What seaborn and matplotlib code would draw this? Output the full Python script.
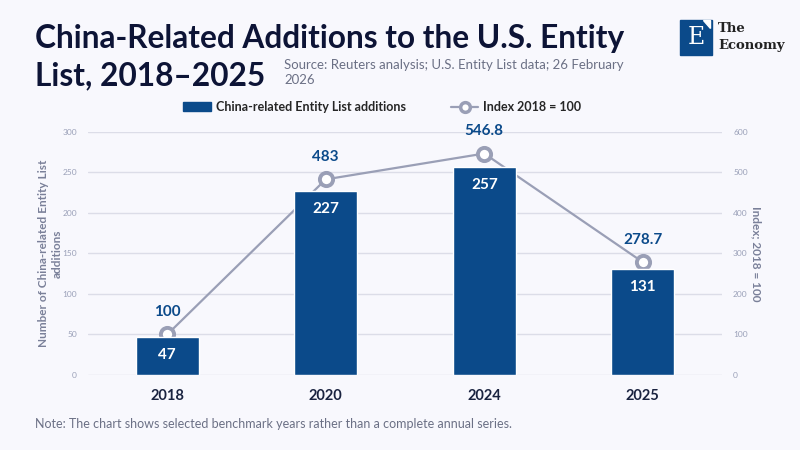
import numpy as np
import pandas as pd
import seaborn as sns
import matplotlib.pyplot as plt
from matplotlib.patches import Rectangle, Polygon
from matplotlib.lines import Line2D
from matplotlib.patches import Patch

# data
years = ["2018", "2020", "2024", "2025"]
additions = [47, 227, 257, 131]
index_vals = [100, 483, 546.8, 278.7]
index_labels = ["100", "483", "546.8", "278.7"]

BG = "#F8F8FD"
BLUE = "#0B4A8A"
GREY_LINE = "#9A9FB6"
DARK = "#0D1436"

sns.set_theme(style="white")
plt.rcParams['font.family'] = ['Lato', 'DejaVu Sans']

df = pd.DataFrame({"year": years, "additions": additions, "index": index_vals})
df["pos"] = np.arange(len(df))

fig = plt.figure(figsize=(8, 4.5), dpi=100, facecolor=BG)
ax = fig.add_axes([0.11, 0.1667, 0.7925, 0.54])
ax2 = ax.twinx()

# bars sit in front of the line
ax.set_zorder(ax2.get_zorder() + 1)
ax.patch.set_visible(False)
ax2.set_facecolor(BG)

sns.barplot(data=df, x="pos", y="additions", ax=ax, color=BLUE, width=0.4,
            saturation=1, native_scale=True)
sns.lineplot(data=df, x="pos", y="index", ax=ax2, color=GREY_LINE, lw=1.6,
             marker="o", markersize=9.5, markerfacecolor="white",
             markeredgecolor=GREY_LINE, markeredgewidth=2.8)

ax.set_xlim(-0.5, 3.5)
ax.set_ylim(0, 300)
ax2.set_ylim(0, 600)
ax.set_yticks(range(0, 301, 50))
ax2.set_yticks(range(0, 601, 100))
ax.set_xticks(df["pos"])
ax.set_xticklabels(years, fontsize=10.5, fontweight="bold", color="#1A2340")

ax2.grid(axis="y", color="#DCDDE8", lw=1)
ax.grid(False)
for a in (ax, ax2):
    for s in a.spines.values():
        s.set_visible(False)
    a.tick_params(axis="y", length=0, labelsize=6, labelcolor="#9AA0B8", pad=8)
    a.tick_params(axis="x", length=0, pad=10)

ax.set_xlabel("")
ax.set_ylabel("Number of China-related Entity List\nadditions", fontsize=8.5,
              color="#7A8099", labelpad=0, fontweight="bold")
ax2.set_xlabel("")
ax2.set_ylabel("Index; 2018 = 100", fontsize=8.5, color="#7A8099", rotation=270,
               labelpad=10, fontweight="bold")

for p, v in zip(df["pos"], additions):
    ax.annotate(str(v), (p, v), xytext=(0, -13), textcoords="offset points",
                ha="center", va="center", color="white", fontsize=11,
                fontweight="bold")
for p, v, lab in zip(df["pos"], index_vals, index_labels):
    ax2.annotate(lab, (p, v), xytext=(0, 16), textcoords="offset points",
                 ha="center", va="center", color=BLUE, fontsize=11,
                 fontweight="bold")

# legend
handles = [Patch(color=BLUE, label="China-related Entity List additions"),
           Line2D([0], [0], color=GREY_LINE, lw=1.6, marker="o", markersize=7,
                  markerfacecolor="white", markeredgecolor=GREY_LINE,
                  markeredgewidth=2.5, label="Index 2018 = 100")]
fig.legend(handles=handles, loc="center", bbox_to_anchor=(0.478, 0.762), ncol=2,
           frameon=False, prop={"weight": "bold", "size": 9}, columnspacing=3.6,
           handlelength=2.2, handletextpad=0.4)

# title block
fig.text(0.044, 0.915, "China-Related Additions to the U.S. Entity", fontsize=22.8,
         fontweight="bold", color=DARK, va="center")
fig.text(0.044, 0.832, "List, 2018\u20132025", fontsize=22.8, fontweight="bold",
         color=DARK, va="center")
fig.text(0.355, 0.838, "Source: Reuters analysis; U.S. Entity List data; 26 February\n2026",
         fontsize=9.5, color="#6B7085", va="center", linespacing=1.3)
fig.text(0.044, 0.058, "Note: The chart shows selected benchmark years rather than a complete annual series.",
         fontsize=9, color="#6B7085", va="center")

# logo
fig.patches.append(Rectangle((0.85, 1 - 55 / 450), 32 / 800, 35 / 450,
                             transform=fig.transFigure, color=BLUE))
fig.patches.append(Polygon([(703 / 800, 1 - 20 / 450), (710 / 800, 1 - 20 / 450),
                            (710 / 800, 1 - 28 / 450)], closed=True,
                           transform=fig.transFigure, color="white"))
fig.text(696 / 800, 1 - 38 / 450, "E", family="DejaVu Serif", fontsize=17,
         color="white", ha="center", va="center")
fig.text(718 / 800, 1 - 28 / 450, "The", family="DejaVu Serif", fontsize=9.5,
         fontweight="bold", color="#222222", va="center")
fig.text(718 / 800, 1 - 45 / 450, "Economy", family="DejaVu Serif", fontsize=9.5,
         fontweight="bold", color="#222222", va="center")

fig.savefig("out.png", dpi=100, facecolor=BG)
